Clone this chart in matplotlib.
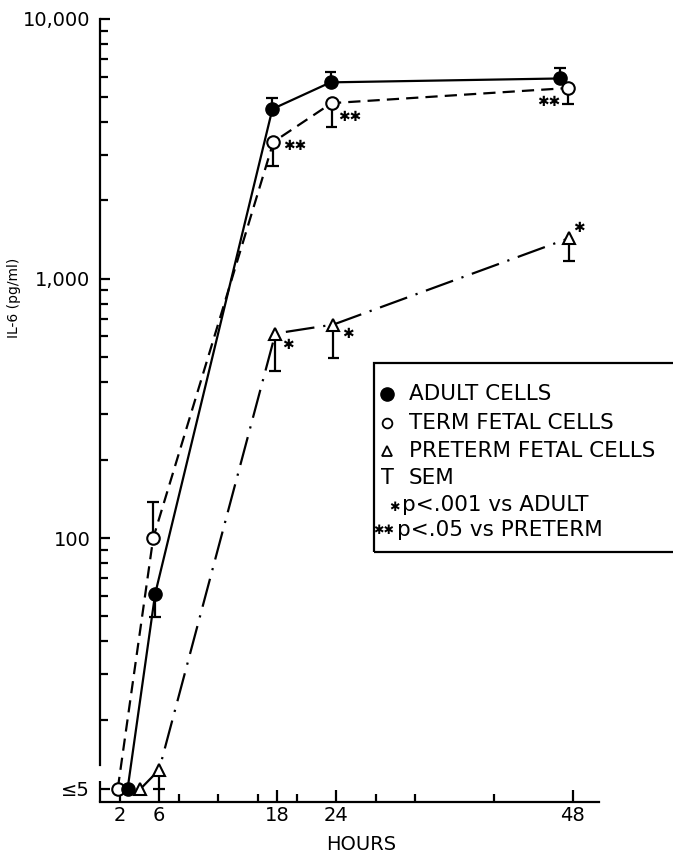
import numpy as np
import matplotlib
matplotlib.use("Agg")
import matplotlib.pyplot as plt
from matplotlib.patches import Rectangle
from matplotlib.ticker import FixedLocator, FixedFormatter, NullFormatter

plt.rcParams['font.family'] = ['DejaVu Sans']

# ---- data ----
# values of 5 mean "<=5" (below detection) and are drawn on the <=5 line
LOD = 5
LOD_POS = 10.8          # where the "<=5" line sits on the broken log axis

adult_hours = [2.8, 5.6, 17.5, 23.4, 46.7]
adult_il6 = [5, 61, 4500, 5700, 5900]
adult_err_hi = [np.nan, np.nan, 4960, 6250, 6480]
adult_err_lo = [np.nan, 49.6, np.nan, np.nan, np.nan]

term_hours = [1.8, 5.4, 17.6, 23.5, 47.5]
term_il6 = [5, 100, 3360, 4740, 5420]
term_err_hi = [np.nan, 138, np.nan, np.nan, np.nan]
term_err_lo = [np.nan, np.nan, 2720, 3840, 4700]
term_sig = ["", "", "✱✱", "✱✱", "✱✱"]
term_sig_off = [(0, 0), (0, 0), (21, -4), (18, -14), (-19, -14)]

preterm_hours = [4.1, 6.0, 17.8, 23.7, 47.6]
preterm_il6 = [5, 12.8, 614, 665, 1430]
preterm_err_lo = [np.nan, 5, 442, 492, 1165]
preterm_sig = ["", "", "✱", "✱", "✱"]
preterm_sig_off = [(0, 0), (0, 0), (13, -11), (14, -9), (10, 10)]

xticks_major = [2, 6, 18, 24, 48]
xticks_minor = [8, 12, 16, 20, 28, 32, 40]
yticks_major = [LOD_POS, 100, 1000, 10000]
yticklabels = ["≤5", "100", "1,000", "10,000"]
yticks_minor = [v * d for d in (10, 100, 1000) for v in range(2, 10)]

legend_rows = ["ADULT CELLS", "TERM FETAL CELLS", "PRETERM FETAL CELLS",
               "SEM", "p<.001 vs ADULT", "p<.05 vs PRETERM"]


def floor(vals):
    v = np.array(vals, dtype=float)
    return np.where(v <= LOD, LOD_POS, v)


W, H = 673, 856
fig = plt.figure(figsize=(W / 100, H / 100), dpi=100)
ax = fig.add_axes([100 / W, 1 - 802 / H, 499 / W, 783 / H])
ax.set_yscale('log')
ax.set_xlim(0, 50.65)
ax.set_ylim(9.62, 10000)

lw = 1.6
ms = 9.5

# error bars (one sided, drawn by hand)
def sem_bars(xs, ends):
    ends = floor(ends)
    ok = ~np.isnan(ends)
    xs = np.array(xs)[ok]
    return xs, ends[ok]

for hrs, vals, hi, lo in [(adult_hours, adult_il6, adult_err_hi, adult_err_lo),
                          (term_hours, term_il6, term_err_hi, term_err_lo),
                          (preterm_hours, preterm_il6, [np.nan] * 5, preterm_err_lo)]:
    for ends in (hi, lo):
        xs, ys = sem_bars(hrs, ends)
        ys0 = floor(vals)[~np.isnan(np.array(ends, dtype=float))]
        ax.vlines(xs, ys0, ys, color='black', lw=lw, zorder=2)
        for x, y in zip(xs, ys):
            ax.plot([x - 0.6, x + 0.6], [y, y], color='black', lw=lw, zorder=2,
                    solid_capstyle='butt')

ax.plot(adult_hours, floor(adult_il6), color='black', lw=lw, marker='o',
        ms=ms, mfc='black', mec='black', zorder=4)
ax.plot(term_hours, floor(term_il6), color='black', lw=lw,
        linestyle=(0, (5.5, 3.2)), marker='o', ms=ms - 0.5, mfc='white',
        mec='black', mew=1.5, zorder=3)
ax.plot(preterm_hours, floor(preterm_il6), color='black', lw=lw,
        linestyle=(0, (13, 4, 1, 4)), marker='^', ms=ms - 1, mfc='white',
        mec='black', mew=1.5, zorder=3)

for hrs, vals, sig, off in [(term_hours, term_il6, term_sig, term_sig_off),
                            (preterm_hours, preterm_il6, preterm_sig, preterm_sig_off)]:
    for x, y, s, o in zip(hrs, floor(vals), sig, off):
        if s:
            ax.annotate(s, (x, y), xytext=o, textcoords='offset pixels',
                        ha='center', va='center', fontsize=10)

# axes styling
for s in ('top', 'right'):
    ax.spines[s].set_visible(False)
ax.spines['left'].set_linewidth(lw)
ax.spines['bottom'].set_linewidth(lw)
ax.spines['left'].set_bounds(13.3, 10000)
ax.plot([0, 0], [9.62, 11.6], color='black', lw=lw, clip_on=False,
        solid_capstyle='butt')

ax.xaxis.set_major_locator(FixedLocator(xticks_major))
ax.xaxis.set_minor_locator(FixedLocator(xticks_minor))
ax.yaxis.set_major_locator(FixedLocator(yticks_major))
ax.yaxis.set_major_formatter(FixedFormatter(yticklabels))
ax.yaxis.set_minor_locator(FixedLocator(yticks_minor))
ax.yaxis.set_minor_formatter(NullFormatter())
ax.tick_params(axis='both', which='major', direction='in', width=lw,
               labelsize=14)
ax.tick_params(axis='x', which='major', length=8.5, pad=3)
ax.tick_params(axis='x', which='minor', direction='in', length=6, width=lw)
ax.tick_params(axis='y', which='major', length=7.5, pad=7)
ax.tick_params(axis='y', which='minor', direction='in', length=6, width=lw)

ax.set_xlabel("HOURS", fontsize=14)
ax.xaxis.set_label_coords(261 / 499, -33 / 783)
fig.text(14 / W, 1 - 298 / H, "IL-6 (pg/ml)", rotation=90, fontsize=10,
         ha='center', va='center')

# legend box, drawn by hand in figure pixels
def fx(px):
    return px / W

def fy(py):
    return 1 - py / H

fig.patches.append(Rectangle((fx(374), fy(552)), fx(310), 189 / H,
                             transform=fig.transFigure, fill=False,
                             lw=lw, ec='black', clip_on=False))
row_y = [394, 423, 451, 478, 505, 530]
fig.lines.append(plt.Line2D([fx(387)], [fy(row_y[0])], marker='o', ms=9.5,
                            mfc='black', mec='black',
                            transform=fig.transFigure))
fig.lines.append(plt.Line2D([fx(387)], [fy(row_y[1])], marker='o', ms=7,
                            mfc='white', mec='black', mew=1.3,
                            transform=fig.transFigure))
fig.lines.append(plt.Line2D([fx(387)], [fy(row_y[2])], marker='^', ms=7,
                            mfc='white', mec='black', mew=1.3,
                            transform=fig.transFigure))
fig.text(fx(387), fy(row_y[3]), "T", fontsize=15, ha='center', va='center')
fig.text(fx(394), fy(row_y[4] + 2), "✱", fontsize=9, ha='center',
         va='center')
fig.text(fx(384), fy(row_y[5] + 1), "✱✱", fontsize=9, ha='center',
         va='center')
for i, (txt, y) in enumerate(zip(legend_rows, row_y)):
    x0 = 409 if i < 4 else (402 if i == 4 else 397)
    fig.text(fx(x0), fy(y), txt, fontsize=15.5, ha='left', va='center')

fig.savefig("out.png", dpi=100)
